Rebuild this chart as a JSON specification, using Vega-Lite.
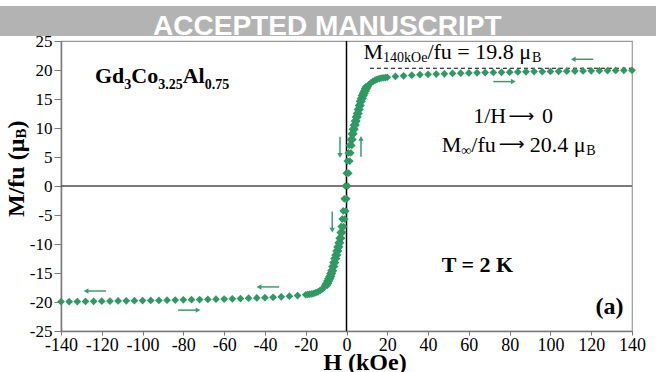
{
  "$schema": "https://vega.github.io/schema/vega-lite/v6.json",
  "width": 571,
  "height": 290,
  "autosize": {"type": "none"},
  "padding": {"left": 61, "top": 41, "right": 24, "bottom": 41},
  "background": "white",
  "config": {
    "view": {"stroke": "#9a9a9a", "strokeWidth": 1.2},
    "axis": {"grid": false, "domainColor": "#7a7a7a", "domainWidth": 1.5, "tickColor": "#7a7a7a", "tickWidth": 1, "labelFont": "Liberation Serif", "labelColor": "#000000", "labelOverlap": false, "labelFlush": false},
    "axisY": {"labelOverlap": false}
  },
  "encoding": {
    "x": {"field": "H", "type": "quantitative", "scale": {"domain": [-140, 140], "nice": false, "zero": false},
          "axis": {"title": null, "values": [-140,-120,-100,-80,-60,-40,-20,0,20,40,60,80,100,120,140], "labelExpr": "datum.value + ''", "labelFontSize": 18, "tickSize": 4, "labelPadding": 1, "labelOverlap": false}},
    "y": {"field": "M", "type": "quantitative", "scale": {"domain": [-25, 25], "nice": false, "zero": false},
          "axis": {"title": null, "values": [-25,-20,-15,-10,-5,0,5,10,15,20,25], "labelExpr": "datum.value + ''", "labelFontSize": 17, "tickSize": 7, "labelPadding": 2, "labelOverlap": false, "labelSeparation": 0}}
  },
  "datasets": {
    "pts": [
      {"H":-140,"M":-19.95},{"H":-136,"M":-19.94},{"H":-132,"M":-19.92},{"H":-128,"M":-19.9},{"H":-124,"M":-19.88},{"H":-120,"M":-19.86},{"H":-116,"M":-19.84},{"H":-112,"M":-19.82},{"H":-108,"M":-19.8},{"H":-104,"M":-19.78},{"H":-100,"M":-19.76},{"H":-96,"M":-19.74},{"H":-92,"M":-19.72},{"H":-88,"M":-19.69},{"H":-84,"M":-19.66},{"H":-80,"M":-19.63},{"H":-76,"M":-19.6},{"H":-72,"M":-19.58},{"H":-68,"M":-19.55},{"H":-64,"M":-19.52},{"H":-60,"M":-19.5},{"H":-56,"M":-19.45},{"H":-52,"M":-19.4},{"H":-48,"M":-19.35},{"H":-44,"M":-19.3},{"H":-40,"M":-19.25},{"H":-36,"M":-19.2},{"H":-32,"M":-19.1},{"H":-28,"M":-19.0},{"H":-24,"M":-18.9},{"H":-20,"M":-18.75},{"H":-19,"M":-18.7},{"H":-18,"M":-18.65},{"H":-17,"M":-18.6},{"H":-16,"M":-18.5},{"H":-15,"M":-18.4},{"H":-14,"M":-18.25},{"H":-13,"M":-18.05},{"H":-12,"M":-17.8},{"H":-11,"M":-17.5},
      {"H":11,"M":17.5},{"H":12,"M":17.8},{"H":13,"M":18.05},{"H":14,"M":18.25},{"H":15,"M":18.4},{"H":16,"M":18.5},{"H":17,"M":18.6},{"H":18,"M":18.65},{"H":19,"M":18.7},{"H":20,"M":18.75},{"H":24,"M":18.9},{"H":28,"M":19.0},{"H":32,"M":19.1},{"H":36,"M":19.2},{"H":40,"M":19.25},{"H":44,"M":19.3},{"H":48,"M":19.35},{"H":52,"M":19.4},{"H":56,"M":19.45},{"H":60,"M":19.5},{"H":64,"M":19.52},{"H":68,"M":19.55},{"H":72,"M":19.58},{"H":76,"M":19.6},{"H":80,"M":19.63},{"H":84,"M":19.66},{"H":88,"M":19.69},{"H":92,"M":19.72},{"H":96,"M":19.74},{"H":100,"M":19.76},{"H":104,"M":19.78},{"H":108,"M":19.8},{"H":112,"M":19.82},{"H":116,"M":19.84},{"H":120,"M":19.86},{"H":124,"M":19.88},{"H":128,"M":19.9},{"H":132,"M":19.92},{"H":136,"M":19.94},{"H":140,"M":19.95},
      {"H":-10.6,"M":-17.1},{"H":-10.1,"M":-16.8},{"H":-9.6,"M":-16.4},{"H":-9.1,"M":-16.0},{"H":-8.6,"M":-15.6},{"H":-8.1,"M":-15.1},{"H":-7.6,"M":-14.6},{"H":-7.1,"M":-13.9},{"H":-6.6,"M":-13.2},{"H":-6.1,"M":-12.5},{"H":-5.6,"M":-11.9},{"H":-5.1,"M":-11.2},{"H":-4.6,"M":-10.5},{"H":-4.1,"M":-9.8},{"H":-3.6,"M":-9.0},{"H":-3.1,"M":-8.0},{"H":-2.6,"M":-7.0},{"H":-2.1,"M":-5.7},{"H":-1.6,"M":-4.3},{"H":-1.1,"M":-2.2},{"H":-0.6,"M":0},{"H":-0.1,"M":2.2},{"H":0.4,"M":4.3},{"H":0.9,"M":5.7},{"H":1.4,"M":7.0},{"H":1.9,"M":8.0},{"H":2.4,"M":9.0},{"H":2.9,"M":9.8},{"H":3.4,"M":10.5},{"H":3.9,"M":11.2},{"H":4.4,"M":11.9},{"H":4.9,"M":12.5},{"H":5.4,"M":13.2},{"H":5.9,"M":13.9},{"H":6.4,"M":14.6},{"H":6.9,"M":15.1},{"H":7.4,"M":15.6},{"H":7.9,"M":16.0},{"H":8.4,"M":16.4},{"H":8.9,"M":16.8},{"H":9.4,"M":17.1},
      {"H":10.6,"M":17.1},{"H":10.1,"M":16.8},{"H":9.6,"M":16.4},{"H":9.1,"M":16.0},{"H":8.6,"M":15.6},{"H":8.1,"M":15.1},{"H":7.6,"M":14.6},{"H":7.1,"M":13.9},{"H":6.6,"M":13.2},{"H":6.1,"M":12.5},{"H":5.6,"M":11.9},{"H":5.1,"M":11.2},{"H":4.6,"M":10.5},{"H":4.1,"M":9.8},{"H":3.6,"M":9.0},{"H":3.1,"M":8.0},{"H":2.6,"M":7.0},{"H":2.1,"M":5.7},{"H":1.6,"M":4.3},{"H":1.1,"M":2.2},{"H":0.6,"M":0},{"H":0.1,"M":-2.2},{"H":-0.4,"M":-4.3},{"H":-0.9,"M":-5.7},{"H":-1.4,"M":-7.0},{"H":-1.9,"M":-8.0},{"H":-2.4,"M":-9.0},{"H":-2.9,"M":-9.8},{"H":-3.4,"M":-10.5},{"H":-3.9,"M":-11.2},{"H":-4.4,"M":-11.9},{"H":-4.9,"M":-12.5},{"H":-5.4,"M":-13.2},{"H":-5.9,"M":-13.9},{"H":-6.4,"M":-14.6},{"H":-6.9,"M":-15.1},{"H":-7.4,"M":-15.6},{"H":-7.9,"M":-16.0},{"H":-8.4,"M":-16.4},{"H":-8.9,"M":-16.8},{"H":-9.4,"M":-17.1}
    ],
    "arrows": [
      {"H":121,"M":21.85,"H2":111.2,"M2":21.85},
      {"H":72,"M":18.0,"H2":81.8,"M2":18.0},
      {"H":-117.9,"M":-18.1,"H2":-127.7,"M2":-18.1},
      {"H":-82.6,"M":-21.4,"H2":-72.8,"M2":-21.4},
      {"H":-33,"M":-17.4,"H2":-42.9,"M2":-17.4},
      {"H":-3.2,"M":8.5,"H2":-3.2,"M2":5.3},
      {"H":7.1,"M":5.05,"H2":7.1,"M2":8.22},
      {"H":-7,"M":-4.4,"H2":-7,"M2":-7.6}
    ],
    "heads": [
      {"H":111.2,"M":21.85,"dir":"left"},
      {"H":81.8,"M":18.0,"dir":"right"},
      {"H":-127.7,"M":-18.1,"dir":"left"},
      {"H":-72.8,"M":-21.4,"dir":"right"},
      {"H":-42.9,"M":-17.4,"dir":"left"},
      {"H":-3.2,"M":5.3,"dir":"down"},
      {"H":7.1,"M":8.22,"dir":"up"},
      {"H":-7,"M":-7.6,"dir":"down"}
    ]
  },
  "layer": [
    {
      "data": {"values": [{"H":-170,"H2":152,"M":25.86,"M2":31.03}]},
      "mark": {"type": "rect", "color": "#b3b3b3"},
      "encoding": {"x2": {"field": "H2"}, "y2": {"field": "M2"}}
    },
    {
      "data": {"values": [{"t":"ACCEPTED MANUSCRIPT","H":-9.4,"M":26.03}]},
      "mark": {"type": "text", "font": "Liberation Sans", "fontWeight": "bold", "fontSize": 28, "color": "#ffffff", "align": "center", "baseline": "alphabetic"},
      "encoding": {"text": {"field": "t"}}
    },
    {
      "data": {"values": [{"H":-140,"H2":140,"M":0}]},
      "mark": {"type": "rule", "color": "#4d4d4d", "strokeWidth": 1.5},
      "encoding": {"x2": {"field": "H2"}}
    },
    {
      "data": {"values": [{"H":0,"M":-25,"M2":25}]},
      "mark": {"type": "rule", "color": "#000000", "strokeWidth": 1.5},
      "encoding": {"y2": {"field": "M2"}}
    },
    {
      "data": {"values": [{"H":11.5,"H2":140,"M":20.3}]},
      "mark": {"type": "rule", "color": "#000000", "strokeWidth": 1, "strokeDash": [4, 3]},
      "encoding": {"x2": {"field": "H2"}}
    },
    {
      "data": {"name": "pts"},
      "mark": {"type": "point", "shape": "diamond", "filled": true, "size": 60, "color": "#2e9a63", "opacity": 1},
      "encoding": {}
    },
    {
      "data": {"name": "arrows"},
      "mark": {"type": "rule", "color": "#3a9e6c", "strokeWidth": 1.5},
      "encoding": {"x2": {"field": "H2"}, "y2": {"field": "M2"}}
    },
    {
      "data": {"name": "heads"},
      "mark": {"type": "point", "filled": true, "size": 30, "color": "#3a9e6c", "opacity": 1},
      "encoding": {
        "shape": {"field": "dir", "type": "nominal", "scale": {"domain": ["left","right","up","down"], "range": ["triangle-left","triangle-right","triangle-up","triangle-down"]}, "legend": null}
      }
    },
    {
      "data": {"values": [{"t":"Gd","H":-123.33,"M":17.71},{"t":"Co","H":-105.53,"M":17.71},{"t":"Al","H":-80.32,"M":17.71}]},
      "mark": {"type": "text", "font": "Liberation Serif", "fontWeight": "bold", "fontSize": 22, "color": "#000000", "align": "left", "baseline": "alphabetic"},
      "encoding": {"text": {"field": "t"}}
    },
    {
      "data": {"values": [{"t":"3","H":-108.96,"M":16.81},{"t":"3.25","H":-92.34,"M":16.81},{"t":"0.75","H":-69.53,"M":16.81}]},
      "mark": {"type": "text", "font": "Liberation Serif", "fontWeight": "bold", "fontSize": 14, "color": "#000000", "align": "left", "baseline": "alphabetic"},
      "encoding": {"text": {"field": "t"}}
    },
    {
      "data": {"values": [{"t":"M","H":8.34,"M":21.95},{"t":"/fu = 19.8 μ","H":39.67,"M":21.95},{"t":"M","H":46.68,"M":5.91},{"t":"/fu","H":61.2,"M":5.91},{"t":"20.4 μ","H":89.8,"M":5.91},{"t":"1/H","H":62.1,"M":10.81},{"t":"0","H":95.9,"M":10.81}]},
      "mark": {"type": "text", "font": "Liberation Serif", "fontSize": 22, "color": "#000000", "align": "left", "baseline": "alphabetic"},
      "encoding": {"text": {"field": "t"}}
    },
    {
      "data": {"values": [{"t":"⟶","H":79.4,"M":11.07},{"t":"⟶","H":74.6,"M":6.17}]},
      "mark": {"type": "text", "font": "DejaVu Sans", "fontSize": 18, "color": "#000000", "align": "left", "baseline": "alphabetic"},
      "encoding": {"text": {"field": "t"}}
    },
    {
      "data": {"values": [{"t":"140kOe","H":17.95,"M":21.35},{"t":"B","H":90.91,"M":21.35},{"t":"∞","H":56.29,"M":5.43},{"t":"B","H":117.6,"M":5.43}]},
      "mark": {"type": "text", "font": "Liberation Serif", "fontSize": 14, "color": "#000000", "align": "left", "baseline": "alphabetic"},
      "encoding": {"text": {"field": "t"}}
    },
    {
      "data": {"values": [{"t":"T = 2 K","H":64.2,"M":-14.78}]},
      "mark": {"type": "text", "font": "Liberation Serif", "fontWeight": "bold", "fontSize": 22, "color": "#000000", "align": "center", "baseline": "alphabetic"},
      "encoding": {"text": {"field": "t"}}
    },
    {
      "data": {"values": [{"t":"(a)","H":129,"M":-22.07}]},
      "mark": {"type": "text", "font": "Liberation Serif", "fontWeight": "bold", "fontSize": 24, "color": "#000000", "align": "center", "baseline": "alphabetic"},
      "encoding": {"text": {"field": "t"}}
    },
    {
      "data": {"values": [{"t":"H (kOe)","H":9.07,"M":-31.75}]},
      "mark": {"type": "text", "font": "Liberation Serif", "fontWeight": "bold", "fontSize": 24, "color": "#000000", "align": "center", "baseline": "alphabetic"},
      "encoding": {"text": {"field": "t"}}
    },
    {
      "data": {"values": [{"t":"M/fu (μ","H":-158.14,"M":-5.34},{"t":")","H":-158.14,"M":9.91}]},
      "mark": {"type": "text", "font": "Liberation Serif", "fontWeight": "bold", "fontSize": 24, "color": "#000000", "align": "left", "baseline": "alphabetic", "angle": 270},
      "encoding": {"text": {"field": "t"}}
    },
    {
      "data": {"values": [{"t":"B","H":-157.1,"M":8.19}]},
      "mark": {"type": "text", "font": "Liberation Serif", "fontWeight": "bold", "fontSize": 15, "color": "#000000", "align": "left", "baseline": "alphabetic", "angle": 270},
      "encoding": {"text": {"field": "t"}}
    }
  ]
}
